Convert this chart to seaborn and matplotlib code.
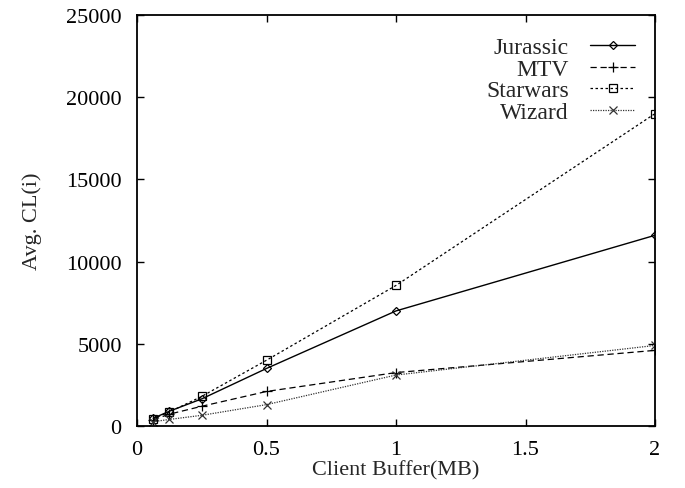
import numpy as np
import pandas as pd
import matplotlib
matplotlib.use("Agg")
import matplotlib.pyplot as plt
import seaborn as sns

buffer_mb = [0.0625, 0.125, 0.25, 0.5, 1, 2]
jurassic = [470, 900, 1650, 3500, 7000, 11600]
mtv = [380, 720, 1200, 2100, 3250, 4600]
starwars = [450, 850, 1800, 4000, 8550, 19000]
wizard = [260, 400, 650, 1300, 3100, 4900]
series_names = ["Jurassic", "MTV", "Starwars", "Wizard"]

sns.set_theme(style="ticks")
plt.rcParams["font.family"] = ["Liberation Serif", "DejaVu Serif"]

df = pd.DataFrame({
    "x": buffer_mb * 4,
    "y": jurassic + mtv + starwars + wizard,
    "series": sum([[n] * len(buffer_mb) for n in series_names], []),
})

fig = plt.figure(figsize=(6.85, 4.89), dpi=100)
ax = fig.add_axes([137 / 685, 62 / 489, 518 / 685, 411 / 489])

styles = {
    "Jurassic": dict(ls="-", marker="D", ms=4, lw=1.0, color="black"),
    "MTV": dict(ls=(0, (5, 3)), marker="+", ms=7, lw=0.9, color="black"),
    "Starwars": dict(ls=(0, (2, 2)), marker="s", ms=6, lw=0.9, color="black"),
    "Wizard": dict(ls=(0, (1, 1)), marker="x", ms=6, lw=0.9, color="#333333"),
}

for name in series_names:
    st = styles[name]
    sub = df[df["series"] == name]
    sns.lineplot(data=sub, x="x", y="y", ax=ax, color=st["color"],
                 linestyle=st["ls"], marker=st["marker"], markersize=st["ms"],
                 markerfacecolor="none", markeredgecolor=st["color"],
                 markeredgewidth=0.9, linewidth=st["lw"], label=name)

ax.set_xlim(0, 2)
ax.set_ylim(0, 25000)
ax.set_xticks([0, 0.5, 1, 1.5, 2])
ax.set_xticklabels(["0", "0.5", "1", "1.5", "2"])
ax.set_yticks(range(0, 25001, 5000))
ax.tick_params(direction="in", length=5, width=1, labelsize=16,
               top=True, right=True, colors="black")
ax.tick_params(axis="y", pad=11)
ax.tick_params(axis="x", pad=10)
for sp in ax.spines.values():
    sp.set_linewidth(1.3)
    sp.set_color("black")
ax.set_xlabel("Client Buffer(MB)", fontsize=16, labelpad=1)
ax.set_ylabel("Avg. CL(i)", fontsize=16, labelpad=17)

leg = ax.legend(loc="upper right", bbox_to_anchor=(0.98, 0.97), frameon=False,
                markerfirst=False, fontsize=17, handlelength=1.9,
                labelspacing=0.0, handletextpad=0.9, borderaxespad=0)
for t in leg.get_texts():
    t.set_ha("right")
leg._legend_box.align = "right"

fig.savefig("out.png", dpi=100)
